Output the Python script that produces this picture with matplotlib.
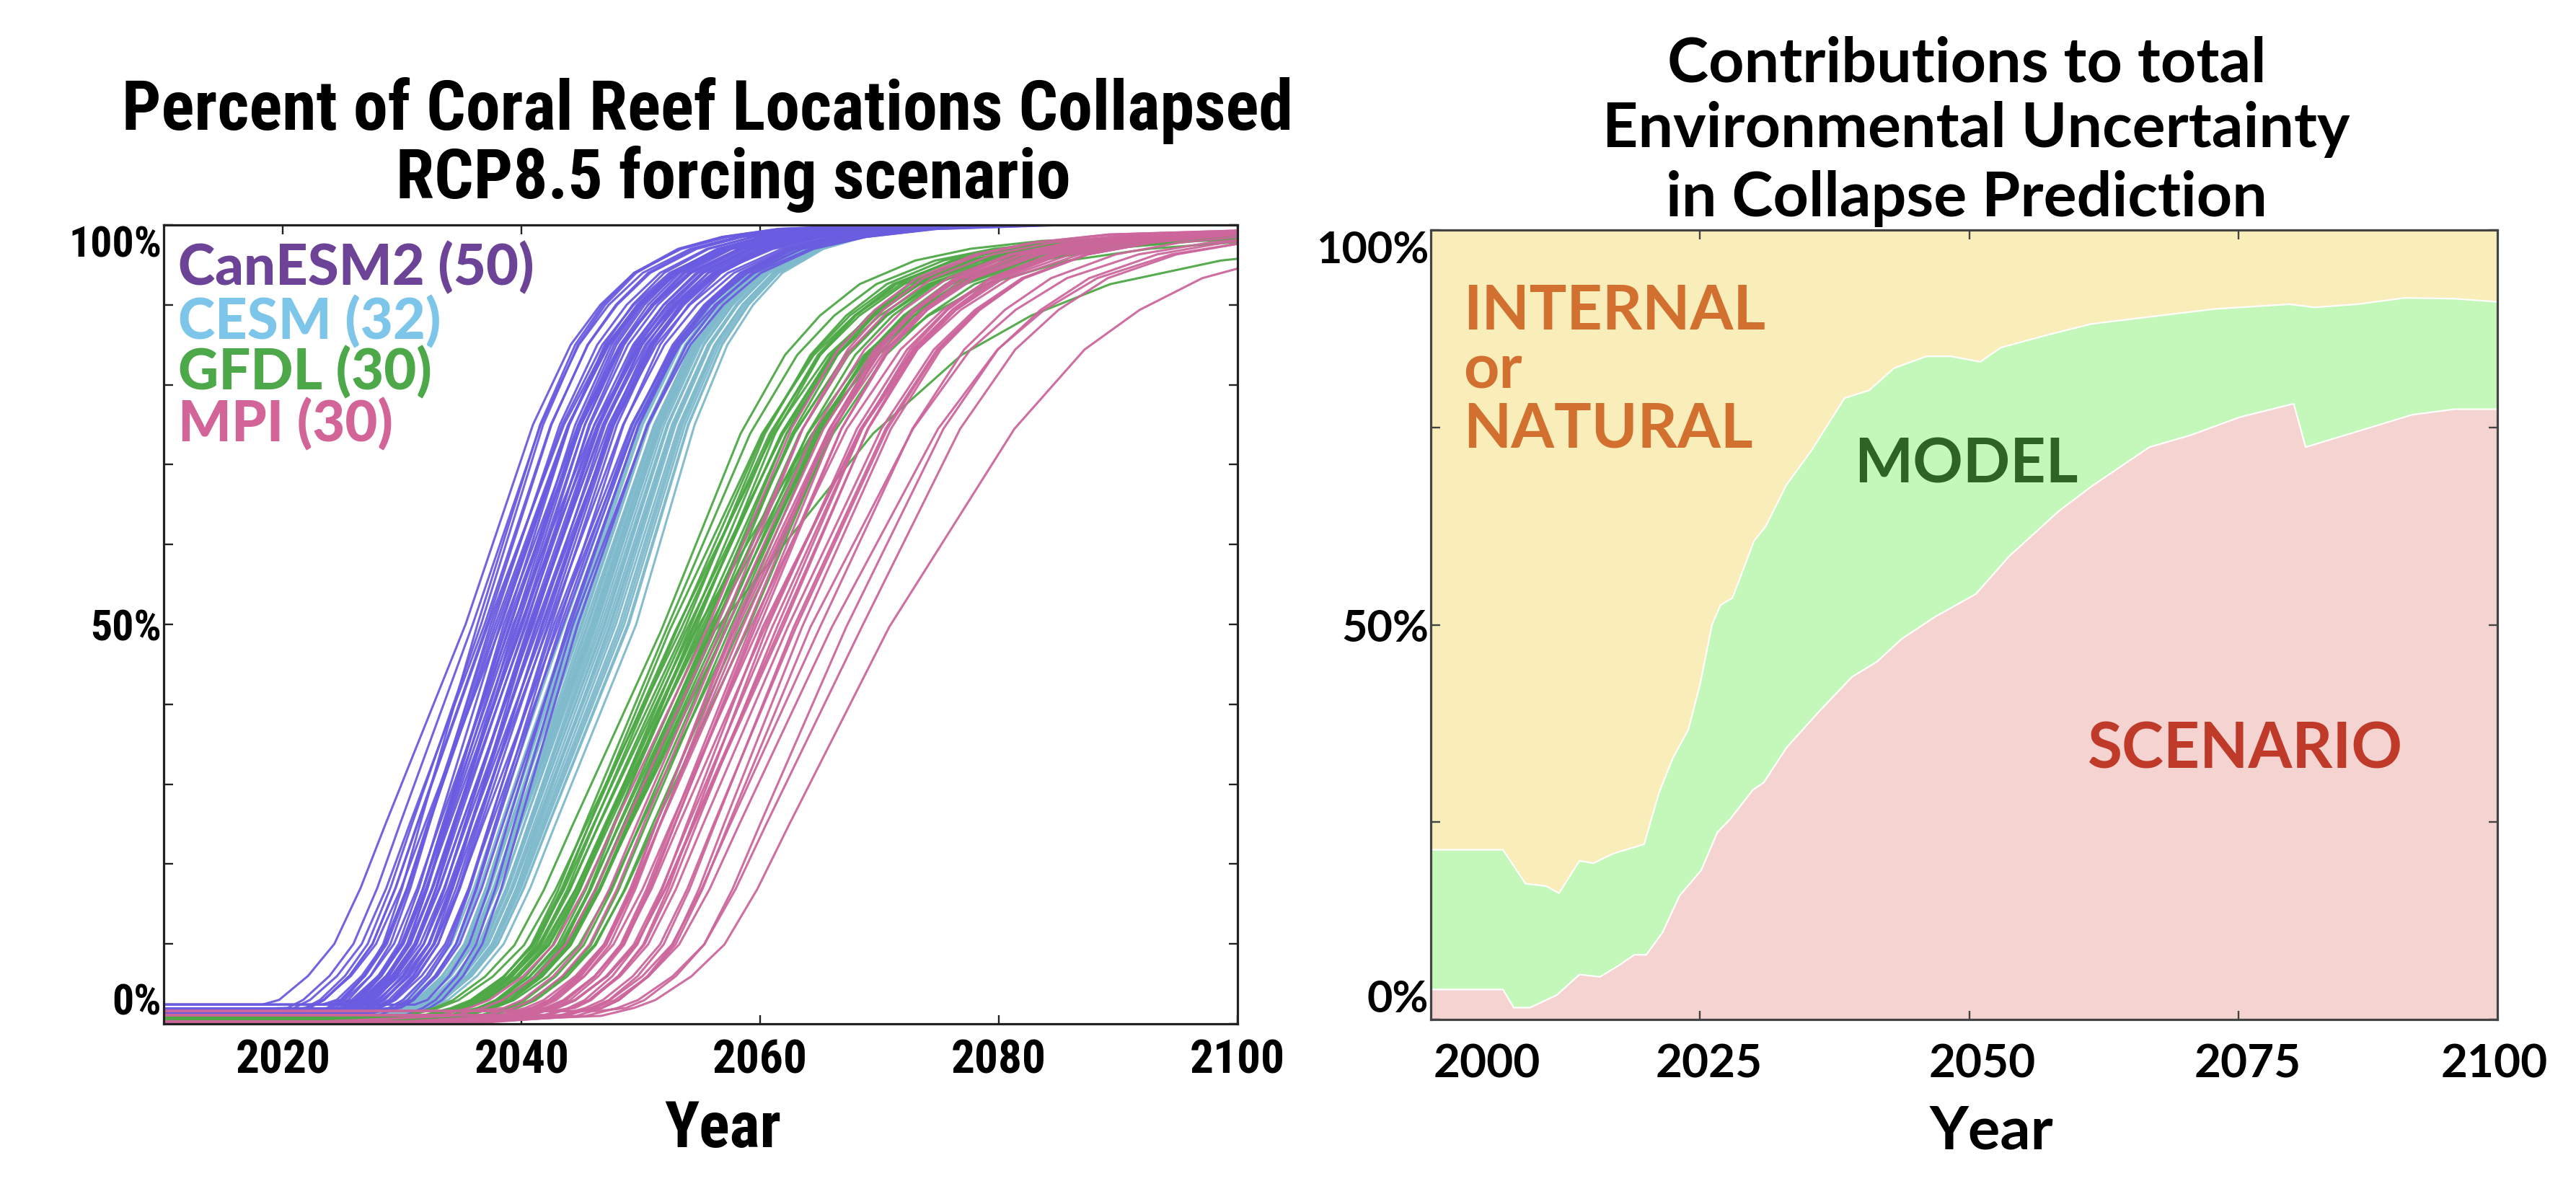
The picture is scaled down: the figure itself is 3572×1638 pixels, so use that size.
import os
import matplotlib
matplotlib.use('Agg')
import matplotlib.pyplot as plt
from matplotlib import font_manager
from matplotlib.font_manager import FontProperties

# ---------------- left panel data ----------------
# year each member crosses 50%, years from 10% to 50%, years from 50% to 90%
canesm_mid = [2035.3, 2037.4, 2039.1, 2040.6, 2042.3, 2036.3, 2038.0, 2039.7, 2041.3, 2043.1,
              2035.9, 2037.8, 2039.4, 2040.9, 2042.7, 2036.9, 2038.5, 2040.0, 2041.7, 2043.5,
              2036.6, 2038.2, 2039.9, 2041.5, 2043.9, 2037.1, 2038.8, 2040.3, 2042.0, 2044.3,
              2037.6, 2039.0, 2040.4, 2041.8, 2042.9, 2038.3, 2039.6, 2040.7, 2042.2, 2044.7,
              2037.2, 2038.7, 2040.1, 2041.2, 2042.5, 2039.3, 2040.8, 2041.0, 2043.3, 2044.1]
canesm_rise = [11.0, 8.4, 9.8, 8.8, 10.1, 7.9, 9.5, 8.6, 9.0, 10.4,
               10.0, 9.1, 8.2, 9.7, 8.9, 10.3, 8.0, 9.4, 8.7, 9.9,
               9.5, 8.5, 9.2, 10.0, 8.3, 9.6, 8.8, 9.3, 10.2, 8.1,
               9.0, 8.6, 9.8, 9.1, 8.4, 10.5, 9.5, 8.9, 9.2, 8.0,
               9.7, 8.7, 10.1, 9.0, 8.5, 9.4, 8.2, 9.9, 8.8, 9.3]
canesm_tail = [11.3, 12.0, 10.8, 11.6, 12.4, 10.5, 11.9, 11.2, 12.8, 10.9,
               11.4, 12.2, 10.7, 11.8, 13.0, 11.1, 12.5, 10.6, 11.7, 12.1,
               10.4, 11.5, 12.9, 11.0, 11.9, 10.8, 12.3, 11.6, 10.9, 12.6,
               11.2, 12.0, 10.5, 11.8, 13.3, 11.4, 10.7, 12.4, 11.1, 11.7,
               12.7, 10.6, 11.3, 12.2, 11.0, 13.6, 11.5, 10.9, 12.0, 11.4]

cesm_mid = [2043.6, 2045.1, 2046.5, 2047.9, 2044.4, 2045.8, 2047.2, 2048.6, 2044.0, 2045.5,
            2046.9, 2049.0, 2044.8, 2046.2, 2047.5, 2049.6, 2045.3, 2046.0, 2046.7, 2048.2,
            2044.6, 2045.9, 2047.0, 2048.9, 2045.0, 2046.3, 2047.7, 2044.2, 2046.1, 2047.4,
            2048.4, 2045.6]
cesm_rise = [9.5, 9.8, 9.6, 10.4, 9.2, 9.9, 10.1, 10.8, 9.4, 9.7,
             10.0, 11.0, 9.3, 9.8, 10.3, 11.1, 9.6, 9.5, 10.0, 10.6,
             9.1, 9.9, 10.2, 10.9, 9.7, 9.4, 10.5, 9.0, 10.1, 9.8,
             10.7, 9.6]
cesm_tail = [11.8, 11.2, 10.9, 10.6, 11.5, 11.0, 10.8, 10.2, 11.7, 11.3,
             10.7, 10.0, 11.4, 11.1, 10.5, 9.8, 11.6, 10.9, 11.0, 10.3,
             11.9, 11.2, 10.6, 10.1, 11.3, 10.8, 10.4, 11.6, 11.0, 10.7,
             10.2, 11.1]

gfdl_mid = [2051.7, 2053.0, 2054.2, 2055.3, 2056.5, 2057.8, 2052.4, 2053.6, 2054.8, 2055.9,
            2057.1, 2058.9, 2052.9, 2054.0, 2055.0, 2056.2, 2057.4, 2053.3, 2054.5, 2055.6,
            2056.8, 2058.2, 2052.1, 2054.6, 2055.2, 2056.0, 2053.8, 2055.8, 2057.0, 2054.3]
gfdl_rise = [12.3, 11.5, 12.8, 11.9, 12.4, 13.0, 11.2, 12.6, 11.8, 12.2,
             13.3, 12.8, 12.0, 11.4, 12.7, 12.1, 11.6, 13.1, 12.5, 11.7,
             12.9, 12.0, 11.3, 12.4, 13.4, 11.9, 12.2, 12.6, 11.8, 10.8]
gfdl_tail = [13.3, 14.5, 15.2, 13.8, 16.0, 14.2, 15.5, 13.6, 14.8, 17.0,
             15.1, 14.0, 16.4, 13.9, 15.6, 26.5, 14.7, 15.0, 13.5, 16.8,
             14.3, 15.8, 14.1, 19.5, 15.3, 14.6, 16.2, 13.7, 15.9, 14.9]

mpi_mid = [2055.6, 2056.8, 2057.7, 2058.5, 2059.2, 2059.9, 2060.6, 2061.4, 2062.3, 2063.5,
           2065.0, 2067.2, 2070.8, 2057.2, 2058.1, 2058.9, 2059.6, 2060.2, 2061.0, 2061.9,
           2062.8, 2064.2, 2056.3, 2057.9, 2059.4, 2060.4, 2061.7, 2063.0, 2066.0, 2068.5]
mpi_rise = [12.9, 11.8, 10.6, 11.4, 10.9, 12.2, 10.4, 11.1, 11.7, 10.8,
            12.4, 11.9, 13.8, 11.5, 10.7, 12.0, 11.2, 10.5, 11.6, 12.3,
            10.9, 11.3, 12.6, 11.0, 10.8, 11.9, 12.1, 11.4, 12.8, 13.2]
mpi_tail = [14.0, 13.5, 15.2, 14.6, 16.1, 13.8, 15.0, 14.3, 15.7, 14.9,
            15.5, 16.3, 21.0, 14.8, 15.9, 13.9, 14.4, 16.6, 15.1, 14.2,
            15.4, 17.2, 14.5, 15.8, 13.6, 16.0, 14.7, 15.3, 17.8, 16.5]

# percent already collapsed in 2010 (members cycle through these)
canesm_start = [2.4, 0.3, 1.4, 0.0, 1.9, 0.8]
cesm_start = [1.2, 0.5, 0.9, 0.2]
gfdl_start = [1.0, 0.4, 0.7, 0.0]
mpi_start = [0.0, 1.6, 0.3, 1.1, 0.0]

# level reached at the end of the century by each ensemble
end_level = {'CanESM2': 100.0, 'CESM': 100.0, 'GFDL': 98.5, 'MPI': 99.3}

# common S-shape: percent levels and where they sit
LOW_LEVELS = [0, 1, 2, 3, 6, 10, 17, 25, 50]
LOW_POS = [-1.6, -0.75, -0.55, -0.42, -0.2, 0.0, 0.2, 0.39, 1.0]   # units of the 10->50 rise, from the 10% year
HIGH_LEVELS = [60, 75, 85, 90, 94, 97, 98.5, 99.5, 100]
HIGH_POS = [0.2, 0.5, 0.78, 1.0, 1.25, 1.6, 1.95, 2.4, 3.2]        # units of the 50->90 tail, from the 50% year

legend_names = ['CanESM2 (50)', 'CESM (32)', 'GFDL (30)', 'MPI (30)']

# ---------------- right panel data ----------------
model_years = [2000, 2006.7, 2008.8, 2010.7, 2011.9, 2013.8, 2015.1, 2016.9, 2019.8, 2021.2,
               2022.5, 2023.9, 2025.0, 2026.1, 2026.9, 2028.0, 2030.0, 2031.1, 2033.0, 2035.3,
               2038.4, 2040.7, 2043.0, 2046.0, 2048.3, 2051.0, 2052.9, 2057.5, 2061.3, 2066.7,
               2072.8, 2079.7, 2082.0, 2086.0, 2090.4, 2095.0, 2099.0]
model_top = [21.5, 21.5, 17.2, 16.9, 16.0, 20.1, 19.8, 21.0, 22.2, 28.8,
             33.2, 36.7, 42.5, 50.0, 52.5, 53.4, 60.6, 62.5, 67.7, 72.0,
             78.7, 79.7, 82.5, 84.0, 84.0, 83.3, 85.1, 86.8, 88.1, 89.0,
             90.0, 90.6, 90.2, 90.6, 91.4, 91.3, 90.9]
scen_years = [2000, 2006.7, 2007.7, 2009.2, 2011.7, 2013.8, 2015.7, 2017.4, 2018.9, 2020.0,
              2021.5, 2023.1, 2025.1, 2026.6, 2027.8, 2029.9, 2030.9, 2033.0, 2036.1, 2039.1,
              2041.4, 2043.7, 2046.8, 2050.6, 2053.7, 2058.3, 2061.3, 2066.7, 2070.5, 2075.1,
              2080.1, 2081.2, 2085.8, 2091.1, 2095.0, 2099.0]
scen_top = [3.8, 3.8, 1.5, 1.5, 3.1, 5.7, 5.4, 6.8, 8.2, 8.2,
            11.0, 15.7, 18.9, 23.7, 25.4, 29.1, 30.0, 34.4, 39.1, 43.4,
            45.3, 48.2, 51.0, 53.9, 58.7, 64.4, 67.5, 72.5, 74.0, 76.3,
            78.0, 72.5, 74.4, 76.6, 77.3, 77.3]


# ---------------- fonts ----------------
def pick_font(prefs):
    files = [f.fname for f in font_manager.fontManager.ttflist]
    for p in prefs:
        for fn in files:
            base = os.path.basename(fn).lower().replace(' ', '').replace('_', '')
            if base.startswith(p):
                return fn
    return None


narrow_file = pick_font(['robotocondensed-extrabold.', 'robotocondensed-black.',
                         'robotocondensed-bold.', 'liberationsansnarrow-bold.',
                         'opensanscondensed-bold.', 'dejavusanscondensed-bold.'])
lato_file = pick_font(['lato-bold.'])
lato_heavy_file = pick_font(['lato-black.', 'lato-heavy.', 'lato-extrabold.', 'lato-bold.'])


def narrow(size):
    if narrow_file:
        return FontProperties(fname=narrow_file, size=size)
    return FontProperties(family='DejaVu Sans', weight='bold', size=size)


def round_font(size, heavy=False):
    fn = lato_heavy_file if heavy else lato_file
    if fn:
        return FontProperties(fname=fn, size=size)
    return FontProperties(family='DejaVu Sans', weight='bold', size=size)


line_color = {'CanESM2': '#6A5CE0', 'CESM': '#7EBACC', 'GFDL': '#4EA846', 'MPI': '#CC669C'}
text_color = ['#6C4396', '#7DC6EA', '#4DA849', '#D36497']


def member_curve(mid, rise, tail, top, start):
    y10 = mid - rise
    years = [y10 + f * rise for f in LOW_POS] + [mid + f * tail for f in HIGH_POS]
    vals = [max(lv * top / 100.0, start) for lv in LOW_LEVELS + HIGH_LEVELS]
    years = [1995] + years + [max(years[-1], 2100) + 5]
    vals = [start] + vals + [top]
    return years, vals


def draw_left(ax):
    ensembles = [('CESM', cesm_mid, cesm_rise, cesm_tail, cesm_start),
                 ('CanESM2', canesm_mid, canesm_rise, canesm_tail, canesm_start),
                 ('GFDL', gfdl_mid, gfdl_rise, gfdl_tail, gfdl_start),
                 ('MPI', mpi_mid, mpi_rise, mpi_tail, mpi_start)]
    for name, mids, rises, tails, starts in ensembles:
        for i in range(len(mids)):
            xs, ys = member_curve(mids[i], rises[i], tails[i], end_level[name],
                                  starts[i % len(starts)])
            ax.plot(xs, ys, color=line_color[name], lw=2.2, alpha=0.95)

    ax.set_xlim(2010, 2100)
    ax.set_ylim(0, 100)
    ax.set_xticks([2020, 2040, 2060, 2080, 2100])
    ax.set_xticklabels(['2020', '2040', '2060', '2080', '2100'])
    ax.set_yticks(list(range(0, 101, 10)))
    ylabels = ['' for _ in range(11)]
    ylabels[0], ylabels[5], ylabels[10] = '0%', '50%', '100%'
    ax.set_yticklabels(ylabels)
    for lab in ax.get_xticklabels():
        lab.set_fontproperties(narrow(47))
    for lab in ax.get_yticklabels():
        lab.set_fontproperties(narrow(43))
    tl = ax.get_yticklabels()
    tl[0].set_va('bottom')
    tl[10].set_va('top')
    ax.tick_params(axis='x', direction='in', length=9, width=1.7, top=True, pad=15, colors='#222222')
    ax.tick_params(axis='y', direction='in', length=9, width=1.7, right=True, pad=2, colors='#222222')
    ax.tick_params(labelcolor='black')
    for s in ax.spines.values():
        s.set_linewidth(2.3)
        s.set_color('#222222')

    ys = [0.9251, 0.8574, 0.7942, 0.7292]
    for lab, col, yy in zip(legend_names, text_color, ys):
        ax.text(0.0134, yy, lab, transform=ax.transAxes, color=col,
                va='baseline', ha='left', fontproperties=round_font(56, heavy=True))


def draw_right(ax):
    ax.set_facecolor('#F9EDBA')
    ax.fill_between(model_years, 0, model_top, color='#C3F8BA', lw=0)
    ax.fill_between(scen_years, 0, scen_top, color='#F5D3D1', lw=0)
    ax.plot(model_years, model_top, color='white', lw=1.6)
    ax.plot(scen_years, scen_top, color='white', lw=1.6)

    ax.set_xlim(2000, 2099)
    ax.set_ylim(0, 100)
    ax.set_xticks([2025, 2050, 2075])
    ax.set_xticklabels([])
    ax.set_xticks([2005.2, 2025.8, 2051.2, 2075.8, 2098.7], minor=True)
    ax.set_xticklabels(['2000', '2025', '2050', '2075', '2100'], minor=True)
    for lab in ax.get_xticklabels(minor=True):
        lab.set_fontproperties(round_font(46))
    ax.set_yticks([0, 25, 50, 75, 100])
    ax.set_yticklabels(['0%', '', '50%', '', '100%'])
    for lab in ax.get_yticklabels():
        lab.set_fontproperties(round_font(44))
    tl = ax.get_yticklabels()
    tl[0].set_va('bottom')
    tl[4].set_va('top')
    ax.tick_params(axis='x', which='major', direction='in', length=9, width=1.7, top=True, colors='#444444')
    ax.tick_params(axis='x', which='minor', length=0, pad=24, labelcolor='black')
    ax.tick_params(axis='y', direction='in', length=9, width=1.7, right=True, pad=2, colors='#444444')
    ax.tick_params(axis='y', labelcolor='black')
    for s in ax.spines.values():
        s.set_linewidth(2.3)
        s.set_color('#444444')

    big = round_font(62)
    ax.text(2003.0, 87.4, 'INTERNAL', color='#D2702F', va='baseline', fontproperties=big)
    ax.text(2003.0, 80.0, 'or', color='#D2702F', va='baseline', fontproperties=big)
    ax.text(2003.0, 72.5, 'NATURAL', color='#D2702F', va='baseline', fontproperties=big)
    ax.text(2039.3, 68.0, 'MODEL', color='#2D6424', va='baseline', fontproperties=big)
    ax.text(2061.0, 31.8, 'SCENARIO', color='#BF3A28', va='baseline', fontproperties=round_font(63))


fig = plt.figure(figsize=(35.72, 16.38), dpi=100)
ax1 = fig.add_axes([0.06355, 0.13309, 0.41685, 0.67643])
ax2 = fig.add_axes([0.55543, 0.13675, 0.41405, 0.66850])
draw_left(ax1)
draw_right(ax2)

W, H = 3572.0, 1638.0
# titles
fig.text(981 / W, 1 - 180 / H, 'Percent of Coral Reef Locations Collapsed', ha='center',
         va='baseline', fontproperties=narrow(69))
fig.text(1017 / W, 1 - 275 / H, 'RCP8.5 forcing scenario', ha='center', va='baseline',
         fontproperties=narrow(69))
fig.text(2727 / W, 1 - 113 / H, 'Contributions to total', ha='center', va='baseline',
         fontproperties=round_font(62))
fig.text(2740 / W, 1 - 204 / H, 'Environmental Uncertainty', ha='center', va='baseline',
         fontproperties=round_font(62))
fig.text(2727 / W, 1 - 300 / H, 'in Collapse Prediction', ha='center', va='baseline',
         fontproperties=round_font(62))
# axis labels
fig.text(1002 / W, 1 - 1591 / H, 'Year', ha='center', va='baseline', fontproperties=narrow(64))
fig.text(2761 / W, 1 - 1594 / H, 'Year', ha='center', va='baseline', fontproperties=round_font(60))

plt.savefig('out.png', dpi=100)
